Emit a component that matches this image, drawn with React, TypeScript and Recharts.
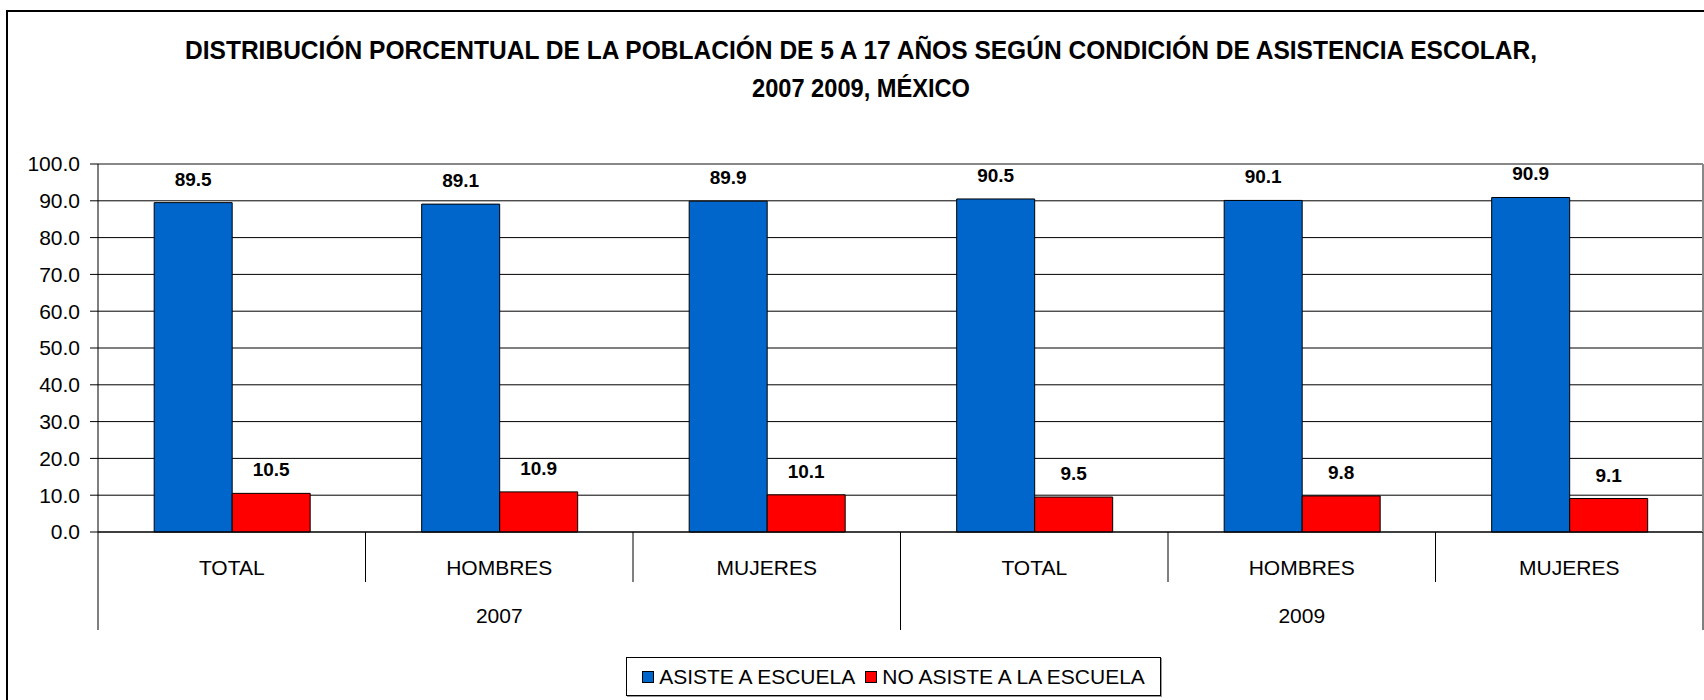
import React from "react";
import {
  BarChart,
  Bar,
  XAxis,
  YAxis,
  CartesianGrid,
  LabelList,
  Legend,
  ReferenceLine,
} from "recharts";

// Población de 5 a 17 años según asistencia escolar, México 2007 / 2009 (%)
const categories = ["TOTAL", "HOMBRES", "MUJERES", "TOTAL", "HOMBRES", "MUJERES"];
const years = ["2007", "2007", "2007", "2009", "2009", "2009"];
const asiste = [89.5, 89.1, 89.9, 90.5, 90.1, 90.9];
const noAsiste = [10.5, 10.9, 10.1, 9.5, 9.8, 9.1];
const yTicks = [0, 10, 20, 30, 40, 50, 60, 70, 80, 90, 100];

const titleLines = [
  "DISTRIBUCIÓN PORCENTUAL DE LA POBLACIÓN DE 5 A 17 AÑOS SEGÚN CONDICIÓN DE ASISTENCIA ESCOLAR,",
  "2007 2009, MÉXICO",
];

const W = 1704;
const H = 700;
const MARGIN = { top: 164, right: 0, bottom: 0, left: 0 };
const Y_AXIS_W = 98;
const X_AXIS_H = 168;
const PLOT_W = W - Y_AXIS_W - 1 - MARGIN.left - MARGIN.right;

const rows = categories.map((cat, i) => ({
  key: `${years[i]} ${cat}`,
  asiste: asiste[i],
  noAsiste: noAsiste[i],
}));

const FONT = '"Liberation Sans", Arial, sans-serif';

function CategoryTick(props: any) {
  const { x, y, index } = props;
  const i = typeof index === "number" ? index : rows.findIndex((r) => r.key === props.payload?.value);
  const half = PLOT_W / rows.length / 2;
  const yr = years[i];
  const sameYear = years.map((v, k) => (v === yr ? k : -1)).filter((k) => k >= 0);
  const showYear = sameYear[Math.floor(sameYear.length / 2)] === i;
  const leftLong = i === 0 || years[i - 1] !== yr;
  const rightLong = i === years.length - 1 || years[i + 1] !== yr;
  return (
    <g>
      {leftLong && <line x1={x - half} x2={x - half} y1={y} y2={y + 98} stroke="#000" />}
      <line x1={x + half} x2={x + half} y1={y} y2={y + (rightLong ? 98 : 50)} stroke="#000" />
      <text x={x} y={y + 43} textAnchor="middle" fontSize={21} fill="#000">
        {categories[i]}
      </text>
      {showYear && (
        <text x={x} y={y + 91} textAnchor="middle" fontSize={21} fill="#000">
          {yr}
        </text>
      )}
    </g>
  );
}

function LegendBox({ payload }: any) {
  return (
    <div
      style={{
        width: 535,
        height: 39,
        boxSizing: "border-box",
        border: "1px solid #000",
        boxShadow: "1px 1px 0 #999",
        background: "#fff",
        display: "flex",
        alignItems: "center",
        justifyContent: "center",
        fontSize: 21,
        fontFamily: FONT,
        color: "#000",
      }}
    >
      {(payload || []).map((entry: any, k: number) => (
        <span key={k} style={{ display: "flex", alignItems: "center", marginLeft: k ? 10 : 0 }}>
          <span
            style={{
              width: 10,
              height: 10,
              background: entry.color,
              border: "1px solid #000",
              marginRight: 5,
              display: "inline-block",
            }}
          />
          {entry.value}
        </span>
      ))}
    </div>
  );
}

export default function App() {
  return (
    <div
      style={{
        position: "absolute",
        left: 0,
        top: 0,
        width: W,
        height: H,
        overflow: "hidden",
        background: "#fff",
        fontFamily: FONT,
      }}
    >
      <div
        style={{
          position: "absolute",
          left: 6,
          top: 10,
          width: W + 20,
          height: H + 20,
          border: "2px solid #000",
        }}
      />
      <svg width={W} height={130} style={{ position: "absolute", left: 0, top: 0 }}>
        <text
          x={861}
          y={59}
          textAnchor="middle"
          fontWeight="bold"
          fontSize={25}
          textLength={1352}
          lengthAdjust="spacingAndGlyphs"
          fill="#000"
        >
          {titleLines[0]}
        </text>
        <text
          x={861}
          y={97}
          textAnchor="middle"
          fontWeight="bold"
          fontSize={25}
          textLength={218}
          lengthAdjust="spacingAndGlyphs"
          fill="#000"
        >
          {titleLines[1]}
        </text>
      </svg>
      <div style={{ position: "absolute", left: 0, top: 0 }}>
        <BarChart
          width={W}
          height={H}
          data={rows}
          margin={MARGIN}
          barCategoryGap="21%"
          barGap={0}
        >
          <CartesianGrid vertical={false} stroke="#000" />
          <XAxis
            dataKey="key"
            type="category"
            interval={0}
            height={X_AXIS_H}
            tickLine={false}
            tickSize={0}
            tickMargin={0}
            axisLine={{ stroke: "#000" }}
            tick={<CategoryTick />}
          />
          <YAxis
            domain={[0, 100]}
            ticks={yTicks}
            width={Y_AXIS_W}
            tickFormatter={(v: number) => v.toFixed(1)}
            tick={{ fontSize: 21, fill: "#000" }}
            tickSize={8}
            tickMargin={10}
            axisLine={{ stroke: "#000" }}
            tickLine={{ stroke: "#000" }}
          />
          <YAxis
            yAxisId="r"
            orientation="right"
            width={1}
            domain={[0, 100]}
            tick={false}
            tickLine={false}
            axisLine={{ stroke: "#888", strokeWidth: 2 }}
          />
          <ReferenceLine y={100} stroke="#888" strokeWidth={2} />
          <Legend
            layout="horizontal"
            align="center"
            verticalAlign="middle"
            wrapperStyle={{ left: 626, top: 657, width: 535, height: 39 }}
            content={<LegendBox />}
          />
          <Bar
            dataKey="asiste"
            name="ASISTE A ESCUELA"
            fill="#0066CC"
            stroke="#000"
            strokeWidth={1}
            isAnimationActive={false}
          >
            <LabelList
              dataKey="asiste"
              position="top"
              offset={17}
              formatter={(v: any) => Number(v).toFixed(1)}
              style={{ fontWeight: "bold", fontSize: 19, fill: "#000" }}
            />
          </Bar>
          <Bar
            dataKey="noAsiste"
            name="NO ASISTE A LA ESCUELA"
            fill="#FF0000"
            stroke="#000"
            strokeWidth={1}
            isAnimationActive={false}
          >
            <LabelList
              dataKey="noAsiste"
              position="top"
              offset={17}
              formatter={(v: any) => Number(v).toFixed(1)}
              style={{ fontWeight: "bold", fontSize: 19, fill: "#000" }}
            />
          </Bar>
        </BarChart>
      </div>
    </div>
  );
}
